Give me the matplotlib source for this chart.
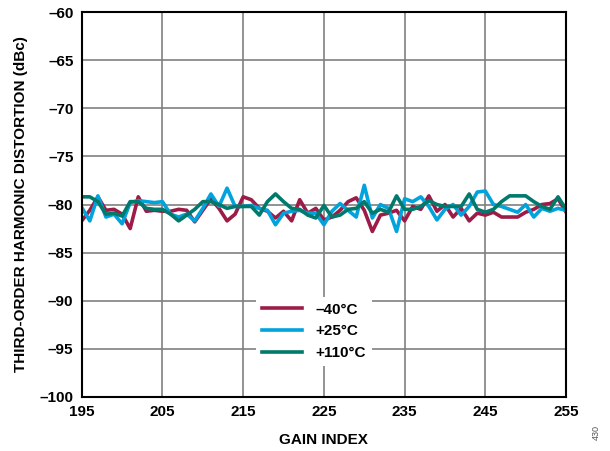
import matplotlib.pyplot as plt
import numpy as np

plt.rcParams['font.family'] = ['Liberation Sans', 'DejaVu Sans']

gain_index = np.arange(195, 256)

hd3_m40 = [-81.7, -80.6, -79.2, -80.6, -80.5, -81.0, -82.5, -79.2, -80.7, -80.6,
           -80.7, -80.7, -80.5, -80.6, -81.8, -80.6, -79.4, -80.4, -81.7, -81.0,
           -79.2, -79.5, -80.4, -80.7, -81.4, -80.7, -81.7, -79.5, -80.9, -80.4,
           -81.6, -81.3, -80.6, -79.7, -79.3, -80.6, -82.8, -81.1, -80.9, -80.6,
           -81.7, -80.2, -80.5, -79.1, -80.7, -80.0, -81.3, -80.4, -81.7, -80.9,
           -81.1, -80.8, -81.3, -81.3, -81.3, -80.8, -80.5, -80.0, -79.9, -79.4,
           -80.8]
hd3_p25 = [-80.3, -81.7, -79.1, -81.3, -81.0, -82.0, -79.8, -79.6, -79.7, -79.8,
           -79.7, -81.0, -81.3, -81.0, -81.7, -80.4, -78.9, -80.2, -78.3, -80.2,
           -80.2, -80.1, -80.4, -80.6, -82.1, -80.9, -80.7, -80.6, -80.9, -80.9,
           -82.1, -80.7, -79.9, -80.6, -81.3, -78.0, -81.4, -80.0, -80.4, -82.8,
           -79.4, -79.7, -79.2, -80.2, -81.6, -80.5, -80.0, -81.1, -80.2, -78.7,
           -78.6, -80.0, -80.2, -80.5, -80.8, -80.0, -81.3, -80.4, -80.7, -80.4,
           -80.6]
hd3_p110 = [-79.2, -79.2, -79.7, -81.0, -80.9, -81.2, -79.7, -79.7, -80.4, -80.5,
            -80.5, -81.0, -81.7, -81.1, -80.5, -79.7, -79.7, -80.0, -80.4, -80.2,
            -80.2, -80.2, -81.1, -79.7, -78.9, -79.7, -80.4, -80.5, -81.1, -81.4,
            -80.1, -81.3, -81.1, -80.5, -80.4, -79.7, -80.9, -80.5, -80.8, -79.1,
            -80.5, -80.5, -80.2, -79.6, -80.0, -80.2, -80.2, -80.2, -78.9, -80.5,
            -80.8, -80.5, -79.7, -79.1, -79.1, -79.1, -79.7, -80.2, -80.5, -79.2,
            -80.5]

series = [("\u201340°C", hd3_m40, "#9c1c47"),
          ("+25°C", hd3_p25, "#00a3dc"),
          ("+110°C", hd3_p110, "#007a6c")]

fig = plt.figure(figsize=(6.1, 4.51), dpi=100)
ax = fig.add_axes([0.134, 0.12, 0.794, 0.853])

for label, vals, col in series:
    ax.plot(gain_index, vals, color=col, lw=2.6, label=label)

ax.set_xlim(195, 255)
ax.set_ylim(-100, -60)
ax.set_xticks(np.arange(195, 256, 10))
ax.set_yticks(np.arange(-100, -59, 5))
ax.set_yticklabels([f"{v}".replace("-", "\u2013") for v in range(-100, -59, 5)])
ax.grid(True, color="#808080", lw=1.2)
ax.tick_params(length=0, labelsize=11, pad=6)
for t in ax.get_xticklabels() + ax.get_yticklabels():
    t.set_fontweight("bold")
for s in ax.spines.values():
    s.set_linewidth(1.5)

ax.set_xlabel("GAIN INDEX", fontsize=11, fontweight="bold", labelpad=10)
ax.set_ylabel("THIRD-ORDER HARMONIC DISTORTION (dBc)", fontsize=11,
              fontweight="bold", labelpad=8)

leg = ax.legend(loc="center", bbox_to_anchor=(0.48, 0.17), frameon=True,
                fancybox=False, edgecolor="none", facecolor="white",
                framealpha=1, handlelength=2.6, handletextpad=0.9,
                prop={"weight": "bold", "size": 11})

fig.text(0.977, 0.025, "430", rotation=90, fontsize=6.5, color="#555555",
         ha="center", va="bottom")

fig.savefig("out.png", dpi=100)
